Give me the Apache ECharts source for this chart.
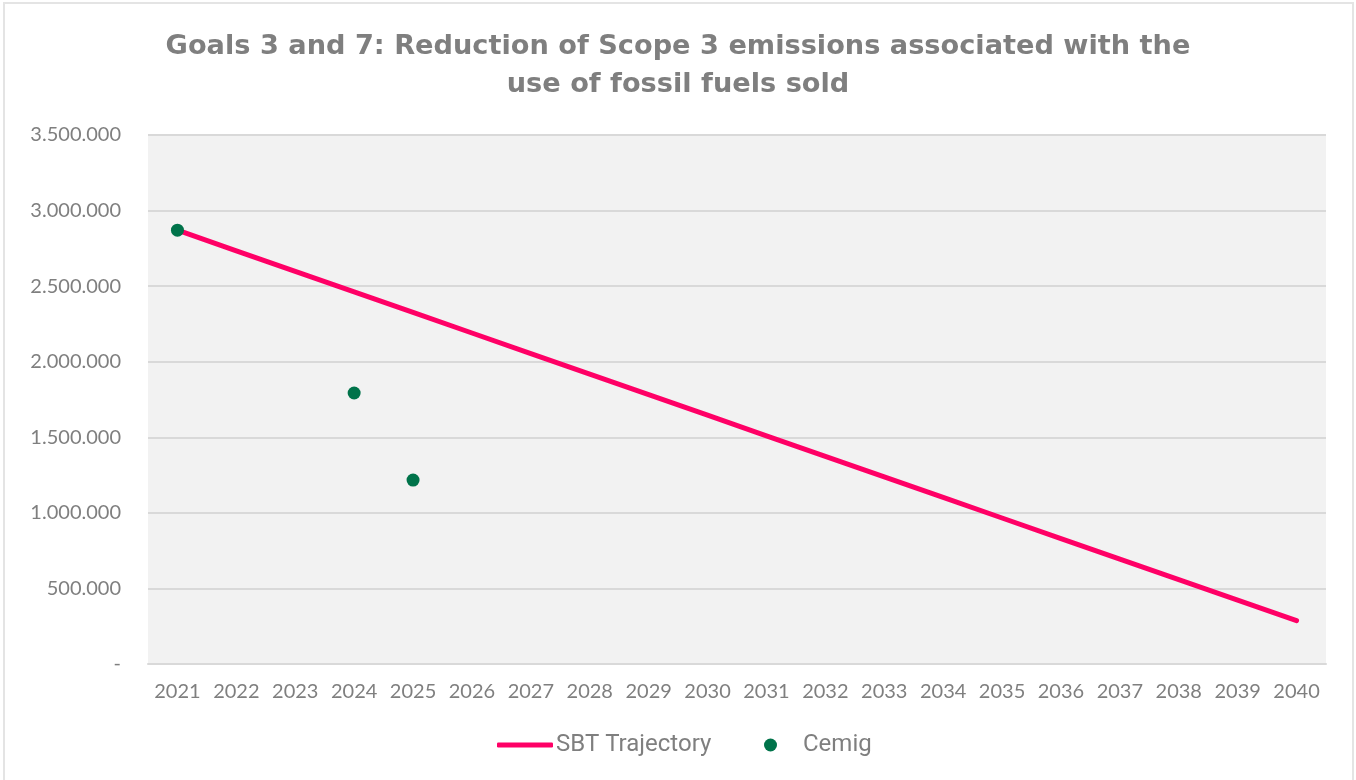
<!DOCTYPE html>
<html>
<head>
<meta charset="utf-8">
<title>Scope 3 emissions – fossil fuels sold</title>
<script src="https://cdn.jsdelivr.net/npm/echarts@6/dist/echarts.min.js"></script>
<style>
  html, body { margin: 0; padding: 0; background: #ffffff; }
  #chart { width: 1356px; height: 780px; }
</style>
</head>
<body>
<div id="chart"></div>
<script>
// Years on the category axis
const years = ['2021', '2022', '2023', '2024', '2025', '2026', '2027', '2028', '2029', '2030',
               '2031', '2032', '2033', '2034', '2035', '2036', '2037', '2038', '2039', '2040'];

// Science Based Target trajectory (tCO2e), one value per year
const sbtTrajectory = [2870000, 2734000, 2598000, 2462000, 2326000, 2190000, 2054000, 1918000, 1782000, 1646000,
                       1510000, 1374000, 1238000, 1102000, 966000, 830000, 694000, 558000, 422000, 287000];

// Reported Cemig emissions (tCO2e)
const cemigYears = ['2021', '2024', '2025'];
const cemigValues = [2870000, 1793000, 1217000];

// Value-axis ticks
const yTicks = [0, 500000, 1000000, 1500000, 2000000, 2500000, 3000000, 3500000];

const seriesNames = ['SBT Trajectory', 'Cemig'];
const titleText = 'Goals 3 and 7: Reduction of Scope 3 emissions associated with the\nuse of fossil fuels sold';

const grey = '#7f7f7f';
const pink = '#ff0066';
const green = '#00734a';

function fmtThousands(v) {
  if (v === 0) return '-';
  return String(v).replace(/\B(?=(\d{3})+(?!\d))/g, '.');
}

const chart = echarts.init(document.getElementById('chart'), null, { renderer: 'canvas' });

chart.setOption({
  backgroundColor: '#ffffff',
  animation: false,
  graphic: [{
    type: 'rect',
    silent: true,
    z: -10,
    shape: { x: 4, y: 3, width: 1349, height: 800 },
    style: { fill: 'none', stroke: '#e4e4e4', lineWidth: 2 }
  }],
  title: {
    text: titleText,
    left: 'center',
    top: 23,
    textStyle: {
      fontFamily: 'DejaVu Sans',
      fontWeight: 'bold',
      fontSize: 27.2,
      lineHeight: 38,
      color: grey
    }
  },
  legend: [{
    data: [{ name: seriesNames[0], icon: 'roundRect' }],
    left: 497,
    top: 733,
    padding: 0,
    itemWidth: 56,
    itemHeight: 5,
    itemGap: 0,
    textStyle: { fontFamily: 'Roboto', fontSize: 24, color: grey, padding: [0, 0, 0, -2] }
  }, {
    data: [{ name: seriesNames[1], icon: 'circle' }],
    left: 764,
    top: 733,
    padding: 0,
    itemWidth: 13,
    itemHeight: 13,
    itemGap: 0,
    textStyle: { fontFamily: 'Roboto', fontSize: 24, color: grey, padding: [0, 0, 0, 21] }
  }],
  grid: {
    left: 148,
    right: 30,
    top: 135,
    bottom: 116,
    show: true,
    backgroundColor: '#f2f2f2',
    borderWidth: 0,
    containLabel: false
  },
  xAxis: {
    type: 'category',
    data: years,
    boundaryGap: true,
    axisLine: { show: true, lineStyle: { color: '#d9d9d9', width: 2 } },
    axisTick: { show: false },
    axisLabel: {
      fontFamily: 'Lato',
      fontSize: 20,
      color: grey,
      margin: 18,
      interval: 0
    }
  },
  yAxis: {
    type: 'value',
    min: yTicks[0],
    max: yTicks[yTicks.length - 1],
    interval: yTicks[1] - yTicks[0],
    axisLine: { show: false },
    axisTick: { show: false },
    splitLine: { show: true, lineStyle: { color: '#d9d9d9', width: 2 } },
    axisLabel: {
      fontFamily: 'Lato',
      fontSize: 20,
      color: grey,
      margin: 27,
      formatter: fmtThousands
    }
  },
  series: [{
    name: seriesNames[0],
    type: 'line',
    data: sbtTrajectory,
    symbol: 'none',
    smooth: false,
    lineStyle: { color: pink, width: 5, cap: 'round', join: 'round' },
    itemStyle: { color: pink },
    z: 2
  }, {
    name: seriesNames[1],
    type: 'scatter',
    data: cemigYears.map((y, i) => [y, cemigValues[i]]),
    symbol: 'circle',
    symbolSize: 13,
    itemStyle: { color: green, opacity: 1 },
    z: 3
  }]
});
</script>
</body>
</html>
